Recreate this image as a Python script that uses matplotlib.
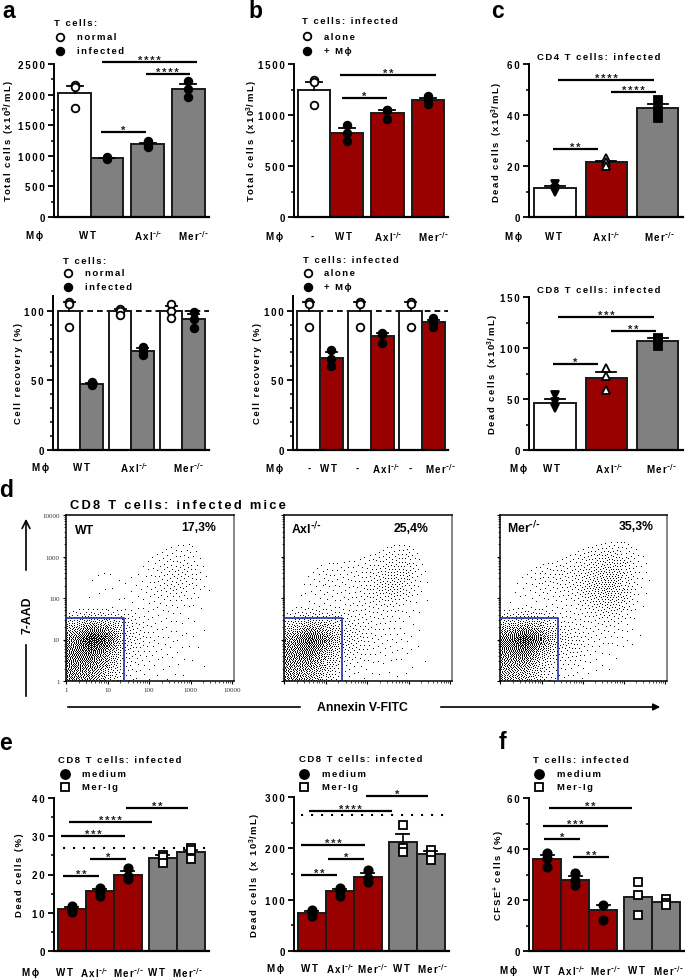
import matplotlib

matplotlib.use("Agg")
import matplotlib.pyplot as plt
import numpy as np

W, H = 685, 979
RED = "#990000"
GRAY = "#808080"

# panel a
A1_VALUES = [2030, 960, 1190, 2095]
A1_ERR = [117, 10, 25, 73]
A1_POINTS = [[2150, 2130, 1780], [975, 960, 945], [1235, 1190, 1140], [2220, 2090, 1960]]
A2_VALUES = [100, 47.5, 100, 71, 100, 94]
A2_ERR = [6, 0.8, 1, 2, 3, 3.5]
A2_POINTS = [[106, 105, 88], [48.5, 47.5, 46.5], [101, 100, 97], [74, 71, 68], [105, 100, 95], [99, 94, 87.5]]

# panel b
B1_VALUES = [1250, 825, 1020, 1150]
B1_ERR = [75, 45, 25, 17]
B1_POINTS = [[1340, 1320, 1100], [905, 820, 745], [1050, 1045, 960], [1185, 1150, 1105]]
B2_VALUES = [100, 66, 100, 82, 100, 92]
B2_ERR = [6, 4, 6, 2, 6, 1.5]
B2_POINTS = [[106, 105, 88], [72, 65, 60], [106, 105, 88], [84, 83, 77], [106, 105, 88], [95, 91, 88.5]]

# panel c
C1_VALUES = [11.3, 21.4, 42.6]
C1_ERR = [0.8, 0.5, 1.7]
C1_POINTS = [[13, 11, 10], [23, 21.5, 20], [46, 42, 39]]
C2_VALUES = [46.5, 70.8, 106.9]
C2_ERR = [3.7, 5.8, 2.5]
C2_POINTS = [[54, 47, 41], [80, 73, 59], [110, 109, 102]]

# panel e
E1_VALUES = [11, 15.7, 20, 24.4, 25.8]
E1_ERR = [0.4, 0.6, 1, 0.6, 0.6]
E1_POINTS = [[11.8, 11, 10.2], [16.5, 15.5, 14.5], [21.7, 19.5, 18.7], [25, 24.5, 23], [27, 26.5, 24]]
E2_VALUES = [75, 117, 144, 213, 189]
E2_ERR = [3, 4, 8, 15, 5]
E2_POINTS = [[80, 76, 68], [122, 117, 108], [158, 143, 134], [245, 200, 192], [197, 187, 178]]

# panel f
F_VALUES = [36, 28, 16.2, 21.3, 19.4]
F_ERR = [1.7, 1.4, 1.8, 0, 0]
F_POINTS = [[38.5, 36.5, 32.8], [30.5, 28, 26], [18.2, 12.3], [27, 22, 14.2], [20.5, 19, 18]]

# panel d: dot darkness read by eye, cells are 0.4 decades, top row first
WT_DENSITY = [
    [0, 0, 0, 0, 0, 0, 0, 0, 0, 0],
    [0, 0, 0, 0, 0, .02, .04, .05, .01, 0],
    [0, .02, .03, .02, .03, .06, .08, .08, .02, 0],
    [.01, .03, .03, .02, .03, .08, .12, .12, .03, 0],
    [.01, .02, .02, .02, .05, .09, .12, .10, .03, 0],
    [.01, .01, .01, .03, .03, .06, .06, .04, .01, 0],
    [.25, .35, .30, .18, .08, .05, .04, .02, .01, 0],
    [.50, .85, .70, .20, .12, .06, .05, .03, .01, 0],
    [.55, .60, .40, .15, .08, .05, .04, .02, .01, 0],
    [.50, .45, .30, .10, .05, .03, .03, .015, .005, 0],
]
AXL_DENSITY = [
    [0, 0, 0, 0, 0, 0, 0, 0, 0, 0],
    [0, 0, 0, 0, 0, .01, .04, .04, .01, 0],
    [0, .02, .04, .04, .05, .08, .12, .12, .03, 0],
    [.01, .04, .08, .08, .08, .12, .18, .16, .04, 0],
    [.01, .05, .07, .07, .08, .15, .20, .13, .03, 0],
    [.02, .04, .05, .06, .08, .10, .10, .06, .01, 0],
    [.20, .30, .25, .15, .10, .08, .06, .04, .01, 0],
    [.45, .70, .55, .22, .14, .08, .06, .04, .01, 0],
    [.50, .55, .35, .15, .10, .05, .05, .03, .01, 0],
    [.45, .40, .25, .08, .04, .03, .02, .015, .005, 0],
]
MER_DENSITY = [
    [0, 0, 0, 0, 0, 0, 0, 0, 0, 0],
    [0, 0, 0, 0, .01, .03, .05, .06, .02, .01],
    [0, .01, .03, .04, .08, .14, .18, .16, .06, .01],
    [.02, .05, .09, .12, .13, .18, .24, .20, .06, .01],
    [.02, .05, .08, .10, .12, .22, .28, .20, .05, 0],
    [.02, .03, .05, .05, .07, .14, .20, .16, .03, 0],
    [.25, .30, .25, .12, .08, .08, .10, .08, .01, 0],
    [.60, .80, .55, .22, .14, .08, .06, .05, .01, 0],
    [.50, .55, .32, .12, .12, .05, .03, .02, .005, 0],
    [.40, .35, .18, .06, .05, .03, .02, .01, .005, 0],
]

plt.rcParams["font.family"] = ["Liberation Sans", "DejaVu Sans"]
plt.rcParams["font.weight"] = "bold"
plt.rcParams["mathtext.default"] = "regular"

fig = plt.figure(figsize=(W / 100, H / 100), dpi=100)


def sp(s):
    # the figure has wide letter spacing, hair spaces get close to it
    parts = s.split("$")
    for i in range(0, len(parts), 2):
        parts[i] = "\u200a\u200a".join(parts[i])
    return "$".join(parts)


def add_bars(rect, slots, values, err, points, colors, markers, yticks, ymax, minor, cap, ylabel, ylab_xy, size=5.5, line=None):
    left, right, y0, ytop, c0, unit = rect
    ax = fig.add_axes([left / W, 1 - y0 / H, (right - left) / W, (y0 - ytop) / H])
    ax.patch.set_alpha(0)
    ax.set_xlim((left - c0) / unit, (right - c0) / unit)
    ax.set_ylim(0, ymax)
    if line is not None:
        yl, x1, x2, ls = line
        ax.plot([(x1 - c0) / unit, (x2 - c0) / unit], [yl, yl], color="black", zorder=1, clip_on=False, **ls)
    ax.bar(slots, values, width=1, color=colors, edgecolor="#1a1a1a", linewidth=1.4, zorder=2)
    cap_w = cap / unit / 2
    for x, v, e, pts, mk in zip(slots, values, err, points, markers):
        if e > 0:
            ax.plot([x, x], [v, v + e], color="black", lw=1.2, zorder=3)
            ax.plot([x - cap_w, x + cap_w], [v + e, v + e], color="black", lw=1.3, zorder=3)
        face = "white" if mk[1] else "black"
        ax.plot([x] * len(pts), pts, mk[0], mfc=face, mec="black", mew=1.3, ms=size, zorder=4, clip_on=False, ls="none")
    for s in ["top", "right"]:
        ax.spines[s].set_visible(False)
    ax.spines["left"].set_linewidth(1.4)
    ax.spines["bottom"].set_linewidth(1.6)
    ax.set_xticks([])
    ax.set_yticks(yticks)
    ax.set_yticklabels([sp(str(t)) for t in yticks], fontsize=7)
    ax.set_yticks(minor, minor=True)
    ax.tick_params(axis="y", which="major", length=4.5, width=1.3, pad=2)
    ax.tick_params(axis="y", which="minor", length=2.5, width=1.1)
    ov.text(ylab_xy[0], ylab_xy[1], sp(ylabel), rotation=90, ha="center", va="center", fontsize=6.8)
    return ax


def halftone(density, w, h):
    # Floyd-Steinberg: turns the read darkness grid into single pixels, no random numbers
    d = np.array(density, dtype=float)
    rows, cols = d.shape
    xs = (np.arange(w) + 0.5) / w * cols - 0.5
    ys = (np.arange(h) + 0.5) / h * rows - 0.5
    wide = np.array([np.interp(xs, np.arange(cols), r) for r in d])
    full = np.array([np.interp(ys, np.arange(rows), c) for c in wide.T]).T ** 1.25
    out = np.zeros((h, w))
    for y in range(h):
        step = 1 if y % 2 == 0 else -1
        for x in range(w)[::step]:
            out[y, x] = 1.0 if full[y, x] > 0.5 else 0.0
            e = full[y, x] - out[y, x]
            if 0 <= x + step < w:
                full[y, x + step] += e * 7 / 16
            if y + 1 < h:
                if 0 <= x - step < w:
                    full[y + 1, x - step] += e * 3 / 16
                full[y + 1, x] += e * 5 / 16
                if 0 <= x + step < w:
                    full[y + 1, x + step] += e * 1 / 16
    return out


def add_flow(left, right, density, labels=False):
    top, bottom = 516, 682
    ax = fig.add_axes([left / W, 1 - bottom / H, (right - left) / W, (bottom - top) / H])
    dots = halftone(density, int(right - left), bottom - top)
    ax.imshow(dots, extent=(0, 4, 0, 4), cmap="gray_r", vmin=0, vmax=1.05, aspect="auto", interpolation="nearest", zorder=1)
    ax.set_xlim(-0.01, 4.05)
    ax.set_ylim(0, 4)
    ax.plot([0, 1.4, 1.4], [1.53, 1.53, 0], color="#2233aa", lw=1.2, zorder=3)
    minor = [d + np.log10(m) for d in range(4) for m in range(2, 10)]
    ax.set_xticks(range(5))
    ax.set_yticks(range(5))
    ax.set_xticks(minor, minor=True)
    ax.set_yticks(minor, minor=True)
    ax.tick_params(which="major", length=2.5, width=0.8, pad=2)
    ax.tick_params(which="minor", length=1.3, width=0.5)
    if labels:
        tl = ["1", "10", "100", "1000", "10000"]
        ax.set_xticklabels(tl, fontsize=5, family="Liberation Serif", fontweight="normal", color="#333333")
        ax.set_yticklabels(tl, fontsize=5, family="Liberation Serif", fontweight="normal", color="#333333")
    else:
        ax.set_xticklabels([])
        ax.set_yticklabels([])
    for s in ax.spines.values():
        s.set_linewidth(1.1)
    ax.spines["right"].set_color("#666666")
    return ax


def brackets(items):
    for x1, x2, y, stars in items:
        ov.plot([x1, x2], [y, y], color="black", lw=1.6, solid_capstyle="butt")
        ov.text((x1 + x2) / 2, y + 3, sp(stars), ha="center", va="bottom", fontsize=8, color="#222222")


def xlabels(y, items):
    for x, s in items:
        ov.text(x, y, sp(s), ha="center", va="center", fontsize=7)


def legend(title, tx, ty, mx, lx, rows):
    if title:
        ov.text(tx, ty, sp(title), ha="left", va="center", fontsize=6.8)
    for my, label, mk, filled, ms in rows:
        ov.plot([mx], [my], mk, mfc="black" if filled else "white", mec="black", mew=1.3, ms=ms)
        ov.text(lx, my, sp(label), ha="left", va="center", fontsize=6.8)


# overlay in image pixels for everything that is not on a data axis
ov = fig.add_axes([0, 0, 1, 1], zorder=10)
ov.set_xlim(0, W)
ov.set_ylim(H, 0)
ov.axis("off")

OPEN = ("o", True)
DOT = ("o", False)
SQ = ("s", False)
SQ_OPEN = ("s", True)
DOWN = ("v", False)
UP = ("^", True)
DASH = {"ls": (0, (3.2, 2.2)), "lw": 1.3}
DOTS = {"ls": (0, (1, 3.8)), "lw": 1.5}
TOTAL = "Total cells (x10$^{3}$/mL)"
RECOV = "Cell recovery (%)"
DEAD = "Dead cells (x10$^{3}$/mL)"

# a
add_bars((54, 209, 218, 65, 74.5, 32.5), [0, 1, 2.25, 3.5], A1_VALUES, A1_ERR, A1_POINTS,
         ["white", GRAY, GRAY, GRAY], [OPEN, DOT, DOT, DOT], [0, 500, 1000, 1500, 2000, 2500], 2500,
         [250, 750, 1250, 1750, 2250], 16, TOTAL, (9, 141))
add_bars((53, 209, 451, 297, 69, 22.7), [0, 1, 2.25, 3.25, 4.5, 5.5], A2_VALUES, A2_ERR, A2_POINTS,
         ["white", GRAY] * 3, [OPEN, DOT] * 3, [0, 50, 100], 110.5, list(range(10, 110, 10)), 11, RECOV, (19, 374),
         line=(100, 58, 209, DASH))
# b
add_bars((294, 448, 218, 65, 314, 32.6), [0, 1, 2.25, 3.5], B1_VALUES, B1_ERR, B1_POINTS,
         ["white", RED, RED, RED], [OPEN, DOT, DOT, DOT], [0, 500, 1000, 1500], 1500, [250, 750, 1250], 16, TOTAL, (252, 141))
add_bars((293, 448, 451, 297, 308.5, 22.7), [0, 1, 2.25, 3.25, 4.5, 5.5], B2_VALUES, B2_ERR, B2_POINTS,
         ["white", RED] * 3, [OPEN, DOT] * 3, [0, 50, 100], 110.5, list(range(10, 110, 10)), 11, RECOV, (258, 374),
         line=(100, 298, 448, DASH))
# c
add_bars((529, 683, 218, 65, 555, 41.5), [0, 1.24, 2.47], C1_VALUES, C1_ERR, C1_POINTS,
         ["white", RED, GRAY], [DOWN, UP, SQ], [0, 20, 40, 60], 60, [10, 30, 50], 20, DEAD, (497, 142))
add_bars((529, 683, 451, 298, 555, 41.5), [0, 1.24, 2.47], C2_VALUES, C2_ERR, C2_POINTS,
         ["white", RED, GRAY], [DOWN, UP, SQ], [0, 50, 100, 150], 150, [25, 75, 125], 20, DEAD, (493, 374))
# e
add_bars((54, 209, 952, 799, 71.7, 28), [0, 1, 2, 3.25, 4.25], E1_VALUES, E1_ERR, E1_POINTS,
         [RED, RED, RED, GRAY, GRAY], [DOT, DOT, DOT, SQ_OPEN, SQ_OPEN], [0, 10, 20, 30, 40], 40, [5, 15, 25, 35], 13,
         "Dead cells (%)", (20, 875), size=6, line=(27, 63, 208, DOTS))
add_bars((294, 449, 952, 798, 311.7, 28), [0, 1, 2, 3.25, 4.25], E2_VALUES, E2_ERR, E2_POINTS,
         [RED, RED, RED, GRAY, GRAY], [DOT, DOT, DOT, SQ_OPEN, SQ_OPEN], [0, 100, 200, 300], 300, [50, 150, 250], 13,
         "Dead cells (x 10$^{3}$/mL)", (255, 875), size=6, line=(265, 301, 448, DOTS))
# f
add_bars((529, 684, 952, 799, 547, 28), [0, 1, 2, 3.25, 4.25], F_VALUES, F_ERR, F_POINTS,
         [RED, RED, RED, GRAY, GRAY], [DOT, DOT, DOT, SQ_OPEN, SQ_OPEN], [0, 20, 40, 60], 60, [10, 30, 50], 13,
         "CFSE$^{+}$ cells (%)", (499, 875), size=6, line=(12, 615, 684, DOTS))

# d
add_flow(66, 234, WT_DENSITY, labels=True)
add_flow(284, 452, AXL_DENSITY)
add_flow(500, 667, MER_DENSITY)
AXL = r"Axl$^{\text{-/-}}$"
MER = r"Mer$^{\text{-/-}}$"
for x, y, s in [(75, 531, "WT"), (291, 529, AXL), (507, 528, MER)]:
    ov.text(x, y, s, fontsize=8.8, ha="left", va="center")
for x, y, s in [(199, 528, "17,3%"), (411, 529, "25,4%"), (636, 527, "35,3%")]:
    ov.text(x, y, s, fontsize=8.8, ha="center", va="center")
ov.text(70, 506, sp("CD8 T cells: infected mice"), fontsize=9.3, ha="left", va="center")
ov.text(28, 615, "7-AAD", fontsize=8.8, rotation=90, ha="center", va="center")
ov.text(362, 708, "Annexin V-FITC", fontsize=8.8, ha="center", va="center")
ov.annotate("", xy=(26, 517), xytext=(26, 574), arrowprops=dict(arrowstyle="->", lw=1.2, color="black", mutation_scale=14))
ov.plot([26, 26], [646, 697], color="black", lw=1.2)
ov.plot([68, 300], [708, 708], color="black", lw=1.2)
ov.annotate("", xy=(663, 708), xytext=(438, 708), arrowprops=dict(arrowstyle="-|>", lw=1.2, color="black", mutation_scale=10))

# significance bars
brackets([(101.7, 196.7, 62.7, "****"), (145.7, 190, 75, "****"), (101, 145.7, 132.7, "*")])
brackets([(340.3, 436, 76, "**"), (341.7, 387, 99, "*")])
brackets([(558.3, 654, 80.7, "****"), (611.3, 656, 92.7, "****"), (553, 598, 150.3, "**")])
brackets([(558.3, 654, 318, "***"), (611.3, 656, 332.3, "**"), (553, 598, 365, "*")])
brackets([(63.3, 99.3, 877, "**"), (90, 126, 860.3, "*"), (60.7, 125.3, 837.3, "***"), (69, 152.3, 823.3, "****"), (126, 188.3, 809, "**")])
brackets([(300.7, 337, 876.3, "**"), (327.7, 363.7, 860, "*"), (300.7, 365.3, 846.3, "***"), (309, 392.3, 811.7, "****"), (366, 428.3, 797.3, "*")])
brackets([(543.7, 580, 839.7, "*"), (573, 609, 858, "**"), (542.7, 607.7, 826.7, "***"), (549, 632.3, 809, "**")])

# category labels
PHI = "M\u03d5"
xlabels(236, [(35, PHI), (88, "WT"), (148, AXL), (193, MER)])
xlabels(468, [(41, PHI), (82, "WT"), (134, AXL), (188, MER)])
xlabels(237, [(275, PHI), (312, "-"), (344, "WT"), (388, AXL), (433, MER)])
xlabels(469, [(275, PHI), (309, "-"), (329, "WT"), (357, "-"), (386, AXL), (410, "-"), (440, MER)])
xlabels(237, [(514, PHI), (554, "WT"), (606, AXL), (659, MER)])
xlabels(469, [(519, PHI), (552, "WT"), (609, AXL), (661, MER)])
xlabels(973, [(31, PHI), (65, "WT"), (94, AXL), (128, MER), (157, "WT"), (187, MER)])
xlabels(969, [(276, PHI), (310, "WT"), (340, AXL), (372, MER), (402, "WT"), (432, MER)])
xlabels(971, [(509, PHI), (542, "WT"), (571, AXL), (605, MER), (637, "WT"), (668, MER)])

# legends and titles
legend("T cells:", 54, 24, 60, 77, [(38, "normal", "o", False, 5.5), (52, "infected", "o", True, 5.5)])
legend("T cells:", 63, 262, 68, 85, [(274, "normal", "o", False, 5.5), (288, "infected", "o", True, 5.5)])
legend("T cells: infected", 302, 21, 307, 324, [(37, "alone", "o", False, 5.5), (52, "+ M\u03d5", "o", True, 5.5)])
legend("T cells: infected", 303, 261, 308, 324, [(274, "alone", "o", False, 5.5), (288, "+ M\u03d5", "o", True, 5.5)])
legend("CD4 T cells: infected", 537, 58, 0, 0, [])
legend("CD8 T cells: infected", 537, 291, 0, 0, [])
E_ROWS = [(775, "medium", "o", True, 6.5), (788, "Mer-Ig", "s", False, 5.5)]
legend("CD8 T cells: infected", 58, 761, 65, 82, E_ROWS)
legend("CD8 T cells: infected", 299, 760, 304, 322, E_ROWS)
legend("T cells: infected", 533, 761, 539, 557, E_ROWS)

for x, y, s in [(9, 11, "a"), (255, 11, "b"), (498, 11, "c"), (6, 491, "d"), (6, 744, "e"), (502, 743, "f")]:
    ov.text(x, y, s, fontsize=16.5, ha="center", va="center")

fig.savefig("out.png", dpi=100)
